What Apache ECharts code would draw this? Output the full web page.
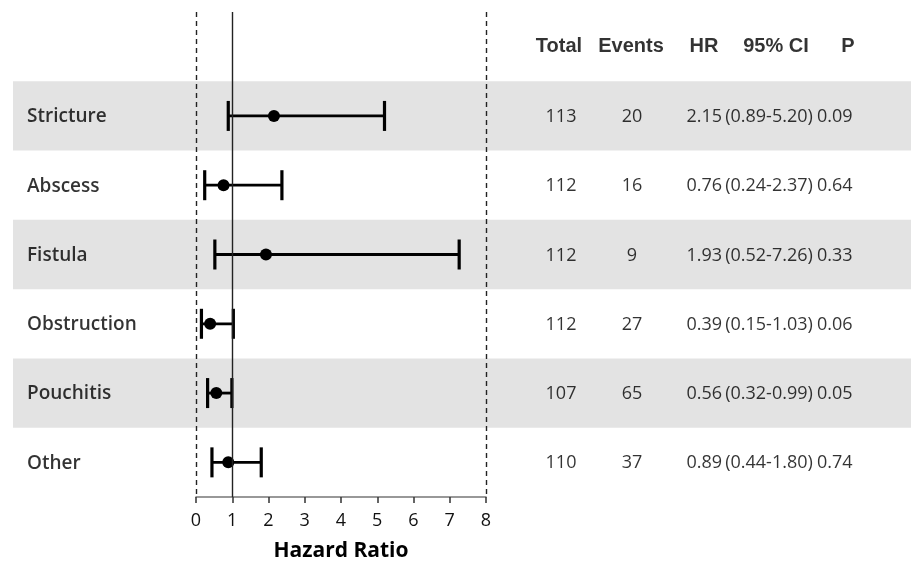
<!DOCTYPE html>
<html><head><meta charset="utf-8">
<script src="https://cdn.jsdelivr.net/npm/echarts@6/dist/echarts.min.js"></script>
<style>html,body{margin:0;padding:0;background:#fff}#c{width:911px;height:563px}</style>
</head><body><div id="c"></div>
<script>
var categories = ['Stricture','Abscess','Fistula','Obstruction','Pouchitis','Other'];
var totals = [113,112,112,112,107,110];
var events = [20,16,9,27,65,37];
var hr = [2.15,0.76,1.93,0.39,0.56,0.89];
var lower = [0.89,0.24,0.52,0.15,0.32,0.44];
var upper = [5.20,2.37,7.26,1.03,0.99,1.80];
var pvals = ['0.09','0.64','0.33','0.06','0.05','0.74'];
var headers = ['Total','Events','HR','95% CI','P'];
var xTicks = [0,1,2,3,4,5,6,7,8];

var FONT = '"Open Sans", "Noto Sans", sans-serif';
var HFONT = '"Liberation Sans", Arial, sans-serif';
var rows = [''].concat(categories);
// column layout (pixel coordinates on the hidden full-width axis)
var COL = {name:27, total:561, events:632, hrR:722, ci:769, pL:817};
var HEAD = [559,631,704,776,848];

function textSeries(xs, ys, texts, align, style){
  return {
    type:'scatter', xAxisIndex:0, yAxisIndex:0, symbolSize:0, silent:true,
    data: texts.map(function(t,i){return {value:[xs[i], ys[i]], t:t};}),
    label:Object.assign({show:true, position:'inside', align:align, verticalAlign:'middle',
      formatter:function(p){return p.data.t;}, color:'#000'}, style)
  };
}
function rep(v,n){var a=[];for(var i=0;i<n;i++)a.push(v);return a;}
var numStyle = {fontFamily:FONT, fontSize:18, fontWeight:'normal', offset:[0,1]};

var series = [
  textSeries(rep(COL.name,6), categories, categories, 'left', {fontFamily:FONT, fontSize:19, fontWeight:600, offset:[0,1]}),
  textSeries(rep(COL.total,6), categories, totals.map(String), 'center', numStyle),
  textSeries(rep(COL.events,6), categories, events.map(String), 'center', numStyle),
  textSeries(rep(COL.hrR,6), categories, hr.map(function(v){return v.toFixed(2);}), 'right', numStyle),
  textSeries(rep(COL.ci,6), categories, lower.map(function(l,i){return '('+l.toFixed(2)+'-'+upper[i].toFixed(2)+')';}), 'center', numStyle),
  textSeries(rep(COL.pL,6), categories, pvals, 'left', numStyle),
  textSeries(HEAD, rep('',5), headers, 'center', {fontFamily:HFONT, fontSize:20, fontWeight:'bold', offset:[0,0]}),
  {
    type:'custom', xAxisIndex:1, yAxisIndex:1, silent:true,
    data: categories.map(function(c,i){return [lower[i], upper[i], i+1];}),
    renderItem:function(params, api){
      var y = api.value(2);
      var p1 = api.coord([api.value(0), y]);
      var p2 = api.coord([api.value(1), y]);
      var h = 15;
      var st = {stroke:'#000', lineWidth:2.8};
      return {type:'group', children:[
        {type:'line', shape:{x1:p1[0],y1:p1[1],x2:p2[0],y2:p2[1]}, style:st},
        {type:'line', shape:{x1:p1[0],y1:p1[1]-h,x2:p1[0],y2:p1[1]+h}, style:{stroke:'#000',lineWidth:3.2}},
        {type:'line', shape:{x1:p2[0],y1:p2[1]-h,x2:p2[0],y2:p2[1]+h}, style:{stroke:'#000',lineWidth:3.2}}
      ]};
    },
    z:3
  },
  {
    type:'scatter', xAxisIndex:1, yAxisIndex:1, silent:true, symbol:'circle', symbolSize:12,
    itemStyle:{color:'#000', opacity:1}, z:4,
    data: categories.map(function(c,i){return [hr[i], c];}),
    markLine:{silent:true, symbol:'none', label:{show:false},
      data:[
        {xAxis:0, lineStyle:{type:[5,4], color:'#222', width:1.4}},
        {xAxis:8, lineStyle:{type:[5,4], color:'#222', width:1.4}},
        {xAxis:1, lineStyle:{type:'solid', color:'#222', width:1.4}}
      ]}
  }
];

var option = {
  animation:false,
  backgroundColor:'#fff',
  grid:[
    {left:13, right:0, top:12, bottom:66, outerBoundsMode:'none', containLabel:false},
    {left:196, right:425, top:12, bottom:66, outerBoundsMode:'none', containLabel:false}
  ],
  xAxis:[
    {gridIndex:0, type:'value', min:13, max:911, show:false},
    {gridIndex:1, type:'value', min:0, max:8, interval:1,
      axisLine:{show:true, lineStyle:{color:'#777', width:1.5}},
      axisTick:{show:true, length:6, lineStyle:{color:'#333', width:1.5}},
      splitLine:{show:false},
      axisLabel:{color:'#111', fontFamily:FONT, fontSize:18, margin:15,
        formatter:function(v){return xTicks.indexOf(v)>=0?String(v):'';}},
      name:'Hazard Ratio', nameLocation:'middle', nameGap:44,
      nameTextStyle:{color:'#000', fontFamily:FONT, fontSize:21, fontWeight:'bold'}
    }
  ],
  yAxis:[
    {gridIndex:0, type:'category', data:rows, inverse:true,
      axisLine:{show:false}, axisTick:{show:false}, axisLabel:{show:false},
      splitLine:{show:false},
      splitArea:{show:true, areaStyle:{color:['rgba(0,0,0,0)','#e3e3e3']}}},
    {gridIndex:1, type:'category', data:rows, inverse:true, show:false}
  ],
  series:series
};
var chart = echarts.init(document.getElementById('c'), null, {renderer:'canvas'});
chart.setOption(option);
</script></body></html>
